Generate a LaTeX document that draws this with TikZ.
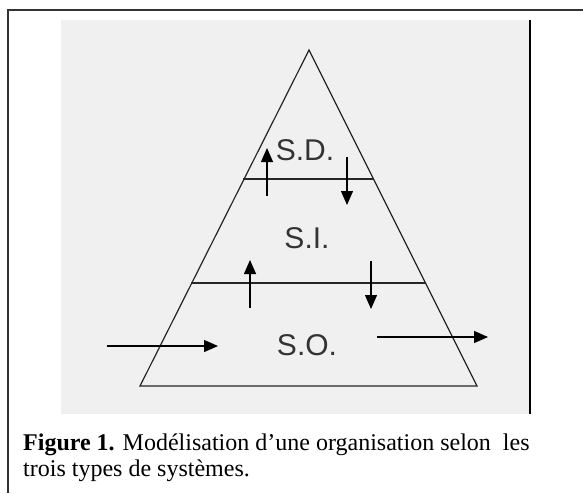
\documentclass[tikz,border=0pt]{standalone}
\usepackage{fontspec}
\setmainfont{Liberation Serif}
\newfontfamily\labelfont{Liberation Sans}
\usetikzlibrary{arrows.meta}

\tikzset{
  level/.style={font=\labelfont\fontsize{30}{30}\selectfont, text=black!80, inner sep=0pt},
  flow/.style={line width=1.2pt, -{Triangle[length=14pt,width=12pt]}},
  layer/.style={line width=1.2pt, draw=black!85},
  caption/.style={anchor=base west, inner sep=0pt, font=\fontsize{24}{26}\selectfont},
}

\begin{document}
\begin{tikzpicture}[x=1pt,y=-1pt]
\useasboundingbox (0,0) rectangle (583,493);
% frame of the figure
\draw[line width=1.2pt, black!80] (8,493) -- (8,10) -- (583,10);
\fill[black!6] (61,20) rectangle (530,414);
\draw[line width=2pt] (530,20) -- (530,414);

% pyramid
\coordinate (apex) at (309,50);
\coordinate (baseL) at (140,386);
\coordinate (baseR) at (477,386);
\draw[layer, line join=miter] (apex) -- (baseL) -- (baseR) -- cycle;
\draw[layer] (243,179) -- (373,179);
\draw[layer] (191,283) -- (426,283);

\node[level] (sd) at (305,150) {S.D.};
\node[level] (si) at (307,238) {S.I.};
\node[level] (so) at (307,345) {S.O.};

% exchanges between levels
\coordinate (up1a) at (267,196);  \coordinate (up1b) at (267,148);
\coordinate (dn1a) at (347,157);  \coordinate (dn1b) at (347,205);
\coordinate (up2a) at (250,308);  \coordinate (up2b) at (250,260);
\coordinate (dn2a) at (371,261);  \coordinate (dn2b) at (371,309);
\coordinate (inA) at (107,346);   \coordinate (inB) at (218,346);
\coordinate (outA) at (377,337);  \coordinate (outB) at (488,337);
\draw[flow] (up1a) -- (up1b);
\draw[flow] (dn1a) -- (dn1b);
\draw[flow] (up2a) -- (up2b);
\draw[flow] (dn2a) -- (dn2b);
\draw[flow] (inA) -- (inB);
\draw[flow] (outA) -- (outB);

\node[caption] (cap1) at (23,450) {\textbf{Figure 1.} Modélisation d’une organisation selon~ les};
\node[caption] (cap2) at (23,476) {trois types de systèmes.};
\end{tikzpicture}
\end{document}
